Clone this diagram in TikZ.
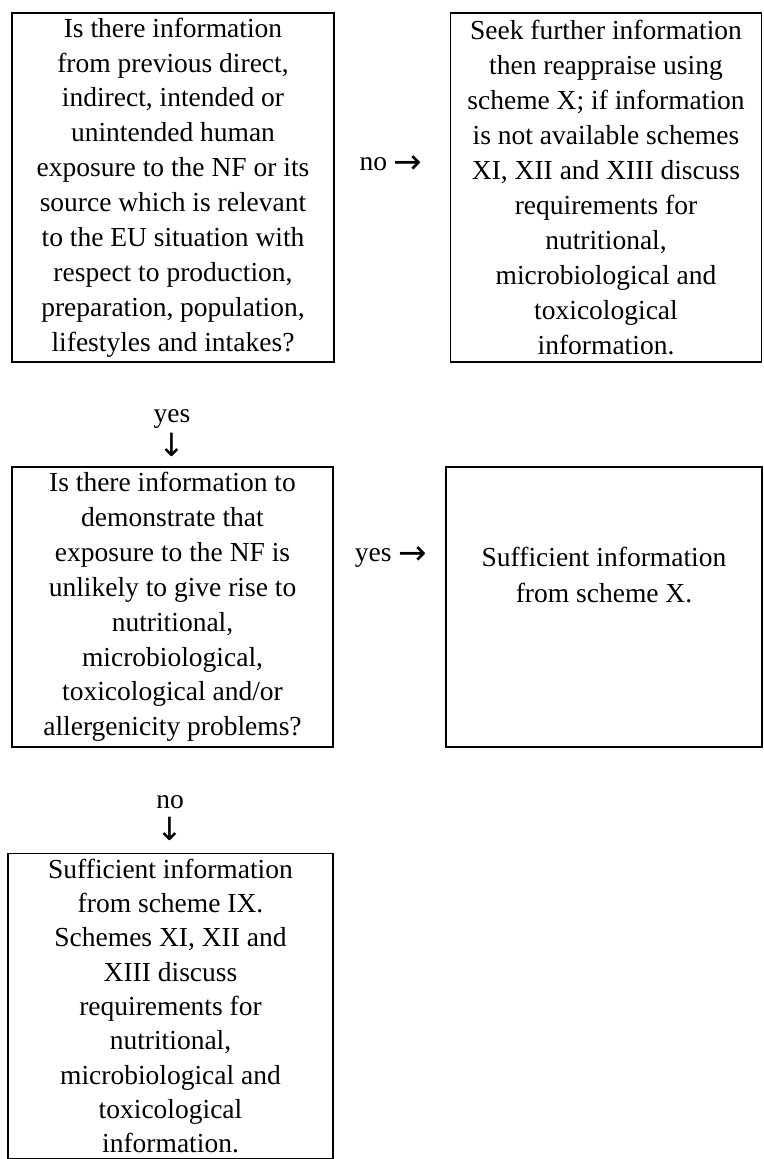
\documentclass[tikz,border=0pt]{standalone}
\usepackage{fontspec}
\setmainfont{Liberation Serif}
\newfontfamily\arrowfont{DejaVu Sans}
\newcommand{\rarr}{\raisebox{-3pt}{\arrowfont\fontsize{34}{34}\selectfont →}}
\newcommand{\darr}{{\arrowfont\fontsize{32}{32}\selectfont ↓}}
\tikzset{
  flowbox/.style={draw, line width=1.4pt, align=center, inner sep=0pt},
  answer/.style={align=center, inner sep=0pt},
}
\begin{document}
\begin{tikzpicture}[x=1pt,y=-1pt,font=\fontsize{27.5}{34.9}\selectfont]
\useasboundingbox (0,0) rectangle (763,1159);
\node[flowbox,minimum width=322pt,minimum height=349pt] (q1) at (173,187.5) {Is there information\\from previous direct,\\indirect, intended or\\unintended human\\exposure to the NF or its\\source which is relevant\\to the EU situation with\\respect to production,\\preparation, population,\\lifestyles and intakes?};
\node[flowbox,minimum width=311pt,minimum height=349pt] (seek) at (606,187.5) {Seek further information\\then reappraise using\\scheme X; if information\\is not available schemes\\XI, XII and XIII discuss\\requirements for\\nutritional,\\microbiological and\\toxicological\\information.};
\node[answer] (no1) at (391,165) {no \rarr};
\node[answer,font=\fontsize{27.5}{34}\selectfont] (yes1) at (172,433) {yes\\\darr};
\node[flowbox,minimum width=321pt,minimum height=280pt] (q2) at (172.5,607) {Is there information to\\demonstrate that\\exposure to the NF is\\unlikely to give rise to\\nutritional,\\microbiological,\\toxicological and/or\\allergenicity problems?};
\node[answer] (yes2) at (391,557) {yes \rarr};
\node[flowbox,minimum width=316pt,minimum height=280pt] (suffX) at (604,607) {};
\node[answer,font=\fontsize{27.5}{36}\selectfont] (suffXtext) at (604,575) {Sufficient information\\from scheme X.};
\node[answer,font=\fontsize{27.5}{32}\selectfont] (no2) at (170,818) {no\\\darr};
\node[flowbox,minimum width=325pt,minimum height=305pt,font=\fontsize{27.5}{34.3}\selectfont] (suffIX) at (170.5,1006) {Sufficient information\\from scheme IX.\\Schemes XI, XII and\\XIII discuss\\requirements for\\nutritional,\\microbiological and\\toxicological\\information.};
\end{tikzpicture}
\end{document}
